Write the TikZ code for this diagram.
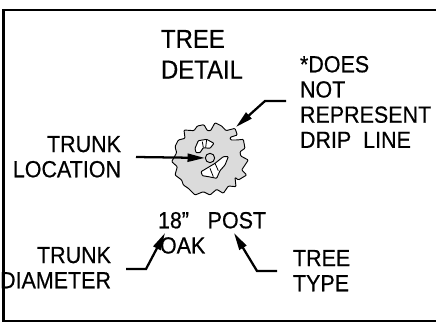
\documentclass[tikz,border=0pt]{standalone}
\usepackage{fontspec}
\setmainfont{Liberation Sans}[FakeBold=0.5,FakeStretch=0.92]
\usetikzlibrary{arrows.meta}
\tikzset{
  lbl/.style={inner sep=0pt,outer sep=0pt,text=black},
  big/.style={lbl,font=\fontsize{19.5}{23}\selectfont,align=left,anchor=north west},
  mid/.style={lbl,font=\fontsize{17.5}{18.9}\selectfont},
  leader/.style={draw=black,line width=1.7pt,-{Stealth[length=13pt,width=6pt,inset=0pt]}},
  gear/.style={draw=black,line width=0.7pt,fill=black!14,rounded corners=0.7pt},
  hole/.style={draw=black,line width=0.7pt,fill=white,rounded corners=0.6pt},
}
\begin{document}
\begin{tikzpicture}[x=0.75pt,y=-0.75pt]
\useasboundingbox (0,0) rectangle (436,326);
\draw[black,line width=1.9pt] (436,10) -- (3.5,10) -- (3.5,321) -- (436,321);
% tree crown
\begin{scope}[shift={(120,80)},x=0.25pt,y=-0.25pt]
\draw[gear] (175,180) -- (195,175) -- (192,150) -- (222,152) -- (232,138) -- (252,134) -- (262,152) -- (272,152) -- (285,128) -- (305,138) -- (318,152) -- (345,145) -- (352,165) -- (330,172) -- (332,180) -- (350,180) -- (370,178) -- (375,205) -- (360,215) -- (362,228) -- (385,240) -- (365,270) -- (380,285) -- (355,300) -- (345,292) -- (348,320) -- (325,318) -- (310,340) -- (290,328) -- (270,345) -- (250,335) -- (225,345) -- (205,325) -- (190,315) -- (185,300) -- (165,285) -- (172,260) -- (155,245) -- (170,218) -- (165,200) -- cycle;
\draw[hole] (225,205) -- (235,182) -- (260,178) -- (282,190) -- (270,205) -- (250,203) -- (240,218) -- (228,218) -- cycle;
\draw[hole] (243,275) -- (260,265) -- (285,250) -- (310,230) -- (325,230) -- (315,255) -- (300,272) -- (290,295) -- (265,290) -- (247,287) -- cycle;
\draw[black,line width=0.6pt] (250,203) -- (247,185) (260,178) -- (257,203) (285,250) -- (295,272) (270,265) -- (280,290);
\end{scope}
\node[draw=black,line width=0.7pt,fill=black!14,circle,minimum size=7pt,inner sep=0pt] (trunk) at (210,158) {};
% labels
\node[big] (title) at (161,30) {TREE\\DETAIL};
\node[mid,align=left,anchor=north west] (note) at (300,56) {*DOES\\NOT\\REPRESENT\\DRIP\ \ LINE};
\node[mid,align=right,anchor=north east] (loc) at (121,136) {TRUNK\\LOCATION};
\node[mid,align=right,anchor=north east] (dia) at (111,247) {TRUNK\\DIAMETER};
\node[mid,align=left,anchor=north west] (size) at (158,212) {18"\hspace{14pt}POST\\\hspace{1.5pt}OAK};
\node[mid,align=left,anchor=north west] (type) at (293,250) {TREE\\TYPE};
% connectors
\coordinate (c1s) at (286,101); \coordinate (c1b) at (265,101); \coordinate (c1e) at (236,127);
\coordinate (c2s) at (136,157);
\coordinate (c3s) at (126,269); \coordinate (c3b) at (146,269); \coordinate (c3e) at (165,233);
\coordinate (c4s) at (277,271); \coordinate (c4b) at (257,271); \coordinate (c4e) at (234,233);
\draw[leader] (c1s) -- (c1b) -- (c1e);
\draw[leader] (c2s) -- (trunk);
\draw[leader] (c3s) -- (c3b) -- (c3e);
\draw[leader] (c4s) -- (c4b) -- (c4e);
\end{tikzpicture}
\end{document}
